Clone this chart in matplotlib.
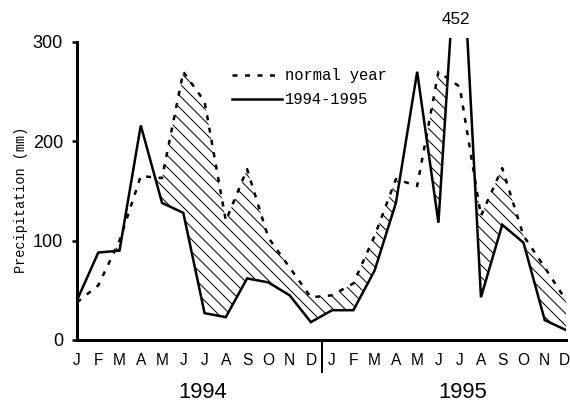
import numpy as np
import matplotlib
matplotlib.use("Agg")
import matplotlib.pyplot as plt
from matplotlib.lines import Line2D
from matplotlib import transforms

months = ['J', 'F', 'M', 'A', 'M', 'J', 'J', 'A', 'S', 'O', 'N', 'D'] * 2
years = ['1994', '1995']
actual = [40, 88, 90, 216, 138, 128, 27, 23, 62, 58, 45, 18,
          30, 30, 70, 138, 270, 118, 452, 43, 116, 98, 20, 10]
normal = [38, 55, 100, 165, 163, 270, 240, 120, 172, 103, 73, 43,
          45, 57, 105, 162, 155, 270, 255, 125, 173, 105, 73, 40]
yticks = [0, 100, 200, 300]
peak_label = '452'

NUM = ['Liberation Sans', 'DejaVu Sans']
MONO = ['Liberation Mono', 'DejaVu Sans Mono']

plt.rcParams['hatch.linewidth'] = 1.0
fig = plt.figure(figsize=(570 / 72, 405 / 72), dpi=72)
ax = fig.add_axes([77 / 570, 65 / 405, (566 - 77) / 570, 302 / 405])

x = np.arange(len(months))
a = np.array(actual, dtype=float)
n = np.array(normal, dtype=float)

ax.fill_between(x, a, n, where=n > a, interpolate=True, facecolor='none',
                edgecolor='black', hatch='\\\\', linewidth=0)
ax.plot(x, n, color='black', lw=2.5, linestyle=(0, (2, 3)), solid_capstyle='butt')
ax.plot(x, a, color='black', lw=2.5, solid_joinstyle='miter')

ax.set_xlim(0, len(months) - 1)
ax.set_ylim(0, 304)

for s in ['top', 'right']:
    ax.spines[s].set_visible(False)
ax.spines['left'].set_linewidth(3)
ax.spines['bottom'].set_linewidth(3)
ax.spines['left'].set_bounds(0, 300)

ax.set_yticks(yticks)
ax.set_yticklabels([str(v) for v in yticks], family=NUM, fontsize=18)
ax.tick_params(axis='y', length=5, width=2.5, pad=9)
ax.set_xticks(x)
ax.set_xticklabels(months, family=NUM, fontsize=15.5)
ax.tick_params(axis='x', length=0, pad=13)
last = ax.get_xticklabels()[-1]
last.set_transform(last.get_transform() + transforms.ScaledTranslation(-2 / 72, 0, fig.dpi_scale_trans))

ax.set_ylabel('Precipitation (mm)', family=MONO, fontsize=13.5)
ax.yaxis.set_label_coords(-0.10, 0.464)

# separator between years
ax.axvline(11.5, ymin=-32 / 302, ymax=0, color='black', lw=2, clip_on=False)

blend = transforms.blended_transform_factory(ax.transData, fig.transFigure)
ax.text(5.9, 1 - 392 / 405, years[0], transform=blend, ha='center', va='center',
        family=NUM, fontsize=22)
ax.text(18.15, 1 - 392 / 405, years[1], transform=blend, ha='center', va='center',
        family=NUM, fontsize=22)
ax.text(17.8, 1 - 19 / 405, peak_label, transform=blend, ha='center', va='center',
        family=NUM, fontsize=17)

handles = [Line2D([], [], color='black', lw=2.5, linestyle=(0, (2, 3))),
           Line2D([], [], color='black', lw=2.5)]
ax.legend(handles, ['normal year', '1994-1995'], loc='upper left',
          bbox_to_anchor=(232 / 570, 1 - 68 / 405), bbox_transform=fig.transFigure,
          frameon=False, borderpad=0, borderaxespad=0, handlelength=3.2,
          handletextpad=0.2, labelspacing=0.6, prop={'family': MONO, 'size': 15.5})

fig.savefig('out.png', dpi=72)
